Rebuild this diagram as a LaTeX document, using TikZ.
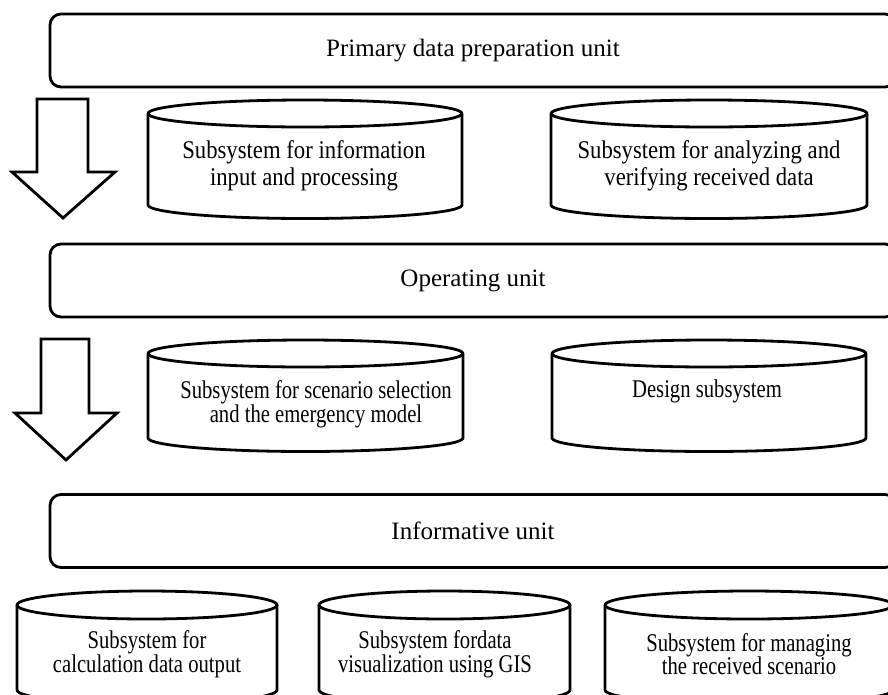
\documentclass[tikz,border=0pt]{standalone}
\usepackage{fontspec}
\setmainfont{Liberation Serif}
\newfontfamily\condA[FakeStretch=0.89]{Liberation Serif}
\newfontfamily\condB[FakeStretch=0.81]{Liberation Serif}
\begin{document}
\begin{tikzpicture}[x=1pt,y=1pt,
  line width=2.8pt, line join=round,
  unitbox/.style={draw, rounded corners=11pt, minimum width=846pt, minimum height=73pt,
    inner sep=0pt, font=\fontsize{25}{30}\selectfont},
  cyltext/.style={align=center, inner sep=0pt},
  rowa/.style={font=\condA\fontsize{25.5}{26.7}\selectfont},
  rowb/.style={font=\condB\fontsize{25.5}{23.6}\selectfont},
  blockarrow/.style={draw, line join=miter, fill=white}]
\useasboundingbox (0,0) rectangle (888,-694);
\clip (0,0) rectangle (888,-694);

% units
\node[unitbox] (u1) at (473,-50.5) {Primary data preparation unit};
\node[unitbox] (u2) at (473,-280.5) {Operating unit};
\node[unitbox] (u3) at (473,-531) {Informative unit};

% block arrows
\draw[blockarrow] (37,-99) -- (88,-99) -- (88,-172) -- (115,-172) -- (63,-218)
  -- (12,-172) -- (37,-172) -- cycle;
\draw[blockarrow] (41,-339) -- (89,-339) -- (89,-413) -- (117,-413) -- (66,-460)
  -- (15,-413) -- (41,-413) -- cycle;

% cylinder: #1 centre x, #2 x radius, #3 top-ellipse centre y, #4 bottom-ellipse centre y, #5 y radius
\newcommand\mycyl[5]{%
  \draw (#1-#2,#3) -- (#1-#2,#4) arc[start angle=180, end angle=360, x radius=#2pt, y radius=#5pt]
    -- (#1+#2,#3);
  \draw (#1,#3) ellipse[x radius=#2pt, y radius=#5pt];
}

% row 1
\mycyl{305}{157}{-113.5}{-205}{13.5}
\mycyl{709}{158}{-113.5}{-205}{13.5}
\node[cyltext, rowa] (c1) at (304,-166) {Subsystem for information\\input and processing};
\node[cyltext, rowa] (c2) at (709,-166) {Subsystem for analyzing and\\verifying received data};

% row 2
\mycyl{305.5}{157.5}{-353.5}{-438}{13.5}
\mycyl{709}{157}{-353.5}{-438}{13.5}
\node[cyltext, rowb] (c3) at (316,-404.5) {Subsystem for scenario selection\\and the emergency model};
\node[cyltext, rowb, anchor=base] (c4) at (707,-397) {Design subsystem};

% row 3
\mycyl{147}{130}{-605}{-690}{14}
\mycyl{444.5}{125.5}{-605}{-690}{14}
\mycyl{749}{144}{-605}{-690}{14}
\node[cyltext, rowb] (c5) at (147,-654) {Subsystem for\\calculation data output};
\node[cyltext, rowb] (c6) at (435,-654) {Subsystem fordata\\visualization using GIS};
\node[cyltext, rowb] (c7) at (749,-654) {Subsystem for managing\\the received scenario};
\end{tikzpicture}
\end{document}
